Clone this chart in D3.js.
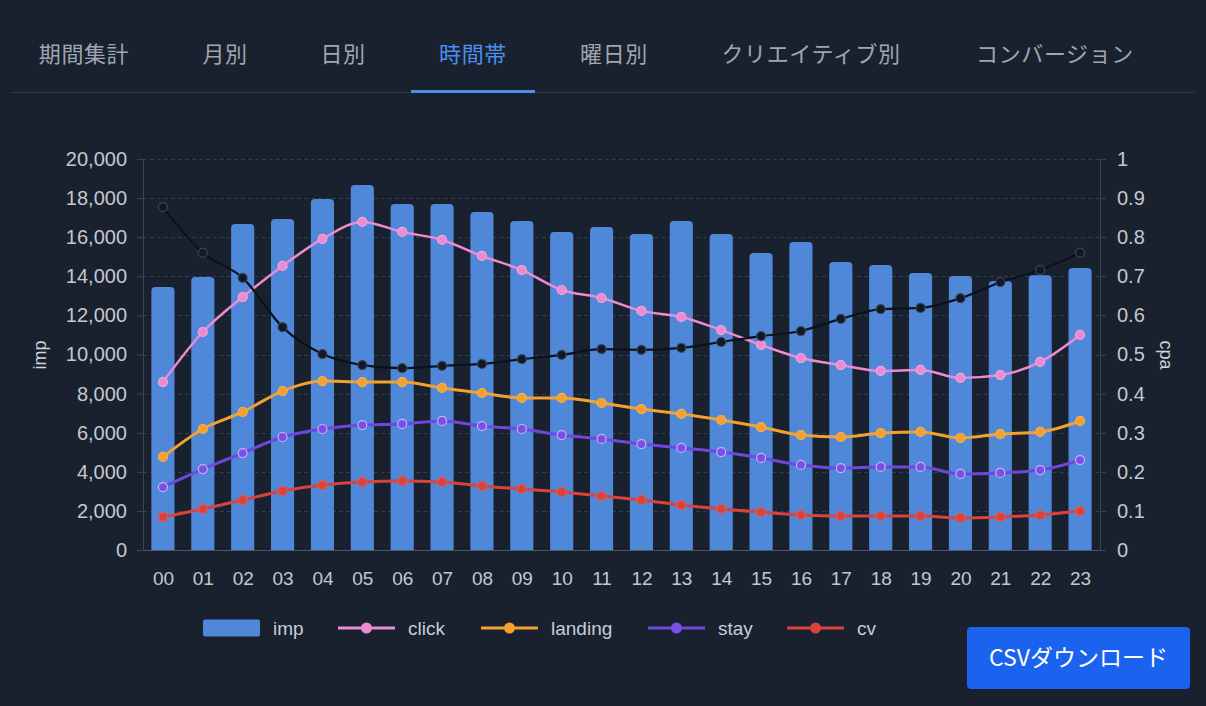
<!DOCTYPE html>
<html>
<head>
<meta charset="utf-8">
<script src="https://cdn.jsdelivr.net/npm/d3@7"></script>
<style>
  html, body { margin: 0; padding: 0; background: #19212f; }
  svg { display: block; }
</style>
</head>
<body>
<svg id="chart" width="1206" height="706"></svg>
<script>
// data
var tabs = ["期間集計", "月別", "日別", "時間帯", "曜日別", "クリエイティブ別", "コンバージョン"];
var tabX = [84, 225, 343, 473, 614, 811, 1055];
var activeTab = "時間帯";

var hours = ["00","01","02","03","04","05","06","07","08","09","10","11",
             "12","13","14","15","16","17","18","19","20","21","22","23"];
var imp = [13450, 13960, 16680, 16930, 17950, 18670, 17700, 17700, 17290, 16830, 16270, 16520,
           16160, 16830, 16160, 15190, 15750, 14730, 14580, 14170, 14010, 13760, 14060, 14420];
var click = [8590, 11150, 12940, 14530, 15910, 16780, 16270, 15860, 15040, 14320, 13300, 12890,
             12230, 11920, 11250, 10490, 9820, 9460, 9160, 9210, 8800, 8950, 9620, 11000];
var landing = [4760, 6190, 7060, 8130, 8640, 8590, 8590, 8290, 8030, 7780, 7780, 7520,
               7210, 6960, 6650, 6290, 5880, 5780, 5980, 6040, 5730, 5930, 6040, 6600];
var stay = [3220, 4140, 4960, 5780, 6190, 6390, 6450, 6600, 6340, 6190, 5880, 5680,
            5420, 5220, 5010, 4710, 4350, 4190, 4250, 4250, 3890, 3940, 4090, 4600];
var cv = [1690, 2100, 2560, 3020, 3320, 3480, 3530, 3480, 3270, 3120, 2970, 2760,
          2560, 2300, 2100, 1940, 1790, 1740, 1740, 1740, 1640, 1690, 1790, 1990];
var cpa = [0.877, 0.760, 0.696, 0.570, 0.501, 0.473, 0.465, 0.471, 0.476, 0.488, 0.499, 0.514,
           0.512, 0.517, 0.532, 0.547, 0.560, 0.591, 0.616, 0.619, 0.644, 0.685, 0.716, 0.760];

var leftTicks = [0, 2000, 4000, 6000, 8000, 10000, 12000, 14000, 16000, 18000, 20000];
var rightTicks = [0, 0.1, 0.2, 0.3, 0.4, 0.5, 0.6, 0.7, 0.8, 0.9, 1];

var legendNames = ["imp", "click", "landing", "stay", "cv"];

// styles
var bg = "#19212f";
var barColor = "#4f88d9";
var lineSeries = [
  {name: "click", values: click, color: "#ec8ad2", dot: "#ec8ad2", ring: "#f4a6e0", width: 2.5},
  {name: "landing", values: landing, color: "#f2a02e", dot: "#f2a02e", ring: "#f6b24e", width: 3},
  {name: "stay", values: stay, color: "#7047dc", dot: "#7a4fe6", ring: "#c7b2ff", width: 3},
  {name: "cv", values: cv, color: "#d8433e", dot: "#d8433e", ring: "#e25a55", width: 3}
];
var fontNum = "'Liberation Sans', Arial, sans-serif";
var fontJp = "'Noto Sans CJK JP', 'Noto Sans', sans-serif";

var plotLeft = 143, plotRight = 1100, plotTop = 159, plotBottom = 550;

var svg = d3.select("#chart");
svg.append("rect").attr("width", 1206).attr("height", 706).attr("fill", bg);

// tabs
var tabG = svg.append("g");
tabG.append("line")
  .attr("x1", 10).attr("x2", 1195)
  .attr("y1", 92.5).attr("y2", 92.5)
  .attr("stroke", "#2c3646").attr("stroke-width", 1);
tabG.selectAll("text.tab")
  .data(tabs)
  .enter()
  .append("text")
  .attr("class", "tab")
  .attr("x", (d, i) => tabX[i])
  .attr("y", 62)
  .attr("text-anchor", "middle")
  .style("font-family", fontJp)
  .style("font-size", "22px")
  .style("letter-spacing", "0.6px")
  .attr("fill", d => d === activeTab ? "#4b8fee" : "#a0a6b0")
  .text(d => d);
var ai = tabs.indexOf(activeTab);
tabG.append("rect")
  .attr("x", tabX[ai] - 62).attr("y", 90)
  .attr("width", 124).attr("height", 3)
  .attr("fill", "#4b8fee");

// scales
var x = d3.scalePoint().domain(hours).range([plotLeft, plotRight]).padding(0.5);
var step = x.step();
var barW = step * 0.58;
var yLeft = d3.scaleLinear().domain([0, 20000]).range([plotBottom, plotTop]);
var yRight = d3.scaleLinear().domain([0, 1]).range([plotBottom, plotTop]);

// grid
svg.append("g").selectAll("line")
  .data(leftTicks.slice(1))
  .enter()
  .append("line")
  .attr("x1", plotLeft).attr("x2", plotRight)
  .attr("y1", d => Math.round(yLeft(d)) + 0.5)
  .attr("y2", d => Math.round(yLeft(d)) + 0.5)
  .attr("stroke", "#323d4e")
  .attr("stroke-dasharray", "4,3");

// axes
var leftAxis = d3.axisLeft(yLeft).tickValues(leftTicks).tickFormat(d3.format(",")).tickSize(6).tickPadding(10);
var rightAxis = d3.axisRight(yRight).tickValues(rightTicks).tickFormat(d => d === 0 || d === 1 ? d : d3.format(".1f")(d)).tickSize(6).tickPadding(11);
var bottomAxis = d3.axisBottom(x).tickSize(0).tickPadding(22);

function styleAxis(g) {
  g.select(".domain").attr("stroke", "#3a4456");
  g.selectAll(".tick line").attr("stroke", "#3a4456");
  g.selectAll(".tick text")
    .attr("fill", "#c3c8d0")
    .style("font-family", fontNum)
    .style("font-size", "20px");
}

svg.append("g")
  .attr("transform", `translate(${plotLeft},0)`)
  .call(leftAxis)
  .call(styleAxis);
svg.append("g")
  .attr("transform", `translate(${plotRight},0)`)
  .call(rightAxis)
  .call(styleAxis);
var xAxis = svg.append("g")
  .attr("transform", `translate(0,${plotBottom})`)
  .call(bottomAxis)
  .call(styleAxis);
xAxis.select(".domain").attr("stroke", "#4c5668");
xAxis.selectAll(".tick text").style("font-size", "19px");

// axis names
svg.append("text")
  .attr("transform", "translate(46,355) rotate(-90)")
  .attr("text-anchor", "middle")
  .attr("fill", "#d0d4da")
  .style("font-family", fontNum)
  .style("font-size", "18px")
  .text("imp");
svg.append("text")
  .attr("transform", "translate(1160,355) rotate(90)")
  .attr("text-anchor", "middle")
  .attr("fill", "#d0d4da")
  .style("font-family", fontNum)
  .style("font-size", "18px")
  .text("cpa");

// bars with rounded tops
function barPath(cx, top, bottom, w, r) {
  var x0 = cx - w / 2, x1 = cx + w / 2;
  return `M${x0},${bottom} L${x0},${top + r} Q${x0},${top} ${x0 + r},${top} L${x1 - r},${top} Q${x1},${top} ${x1},${top + r} L${x1},${bottom} Z`;
}
svg.append("g").selectAll("path")
  .data(imp)
  .enter()
  .append("path")
  .attr("d", (d, i) => barPath(x(hours[i]), yLeft(d), yLeft(0), barW, 4))
  .attr("fill", barColor);

// lines
var lineG = svg.append("g");
lineSeries.forEach(function(s) {
  var line = d3.line()
    .x((d, i) => x(hours[i]))
    .y(d => yLeft(d))
    .curve(d3.curveMonotoneX);
  lineG.append("path")
    .datum(s.values)
    .attr("d", line)
    .attr("fill", "none")
    .attr("stroke", s.color)
    .attr("stroke-width", s.width);
  lineG.append("g").selectAll("circle")
    .data(s.values)
    .enter()
    .append("circle")
    .attr("cx", (d, i) => x(hours[i]))
    .attr("cy", d => yLeft(d))
    .attr("r", 4.5)
    .attr("fill", s.dot)
    .attr("stroke", s.ring)
    .attr("stroke-width", 1.2);
});

// cpa on the right axis
var cpaLine = d3.line()
  .x((d, i) => x(hours[i]))
  .y(d => yRight(d))
  .curve(d3.curveMonotoneX);
lineG.append("path")
  .datum(cpa)
  .attr("d", cpaLine)
  .attr("fill", "none")
  .attr("stroke", "#0c121c")
  .attr("stroke-width", 2.2);
lineG.append("g").selectAll("circle")
  .data(cpa)
  .enter()
  .append("circle")
  .attr("cx", (d, i) => x(hours[i]))
  .attr("cy", d => yRight(d))
  .attr("r", 4.5)
  .attr("fill", "#111826")
  .attr("stroke", "#3c4656")
  .attr("stroke-width", 1.2);

// legend
var legendX = [203, 338, 481, 648, 787];
var legendY = 628;
var leg = svg.append("g");
legendNames.forEach(function(name, i) {
  var g = leg.append("g").attr("transform", `translate(${legendX[i]},${legendY})`);
  if (name === "imp") {
    g.append("rect").attr("x", 0).attr("y", -8.5).attr("width", 57).attr("height", 17)
      .attr("rx", 2).attr("fill", barColor);
  } else {
    var s = lineSeries.find(d => d.name === name);
    g.append("line").attr("x1", 0).attr("x2", 57).attr("y1", 0).attr("y2", 0)
      .attr("stroke", s.color).attr("stroke-width", 3);
    g.append("circle").attr("cx", 28.5).attr("cy", 0).attr("r", 5.5).attr("fill", s.dot);
  }
  g.append("text")
    .attr("x", 70)
    .attr("y", 0)
    .attr("dy", "0.35em")
    .attr("fill", "#c8ccd4")
    .style("font-family", fontNum)
    .style("font-size", "19px")
    .text(name);
});

// download button
var btn = svg.append("g").attr("transform", "translate(967,627)");
btn.append("rect")
  .attr("width", 223).attr("height", 62)
  .attr("rx", 4)
  .attr("fill", "#1b62ef");
btn.append("text")
  .attr("x", 111.5).attr("y", 31)
  .attr("dy", "0.35em")
  .attr("text-anchor", "middle")
  .attr("fill", "#ffffff")
  .style("font-family", fontJp)
  .style("font-size", "23px")
  .text("CSVダウンロード");
</script>
</body>
</html>
